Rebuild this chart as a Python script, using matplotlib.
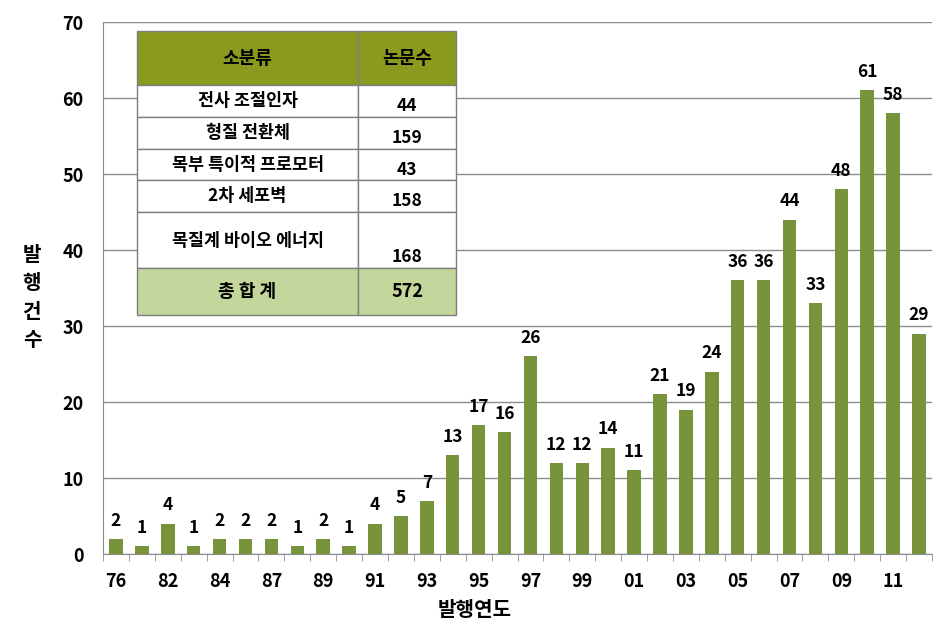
import numpy as np
import matplotlib.pyplot as plt
from matplotlib.patches import Rectangle

plt.rcParams['font.family'] = ['Noto Sans CJK KR', 'DejaVu Sans']

# Data
counts = [2, 1, 4, 1, 2, 2, 2, 1, 2, 1, 4, 5, 7, 13, 17, 16, 26, 12, 12, 14,
          11, 21, 19, 24, 36, 36, 44, 33, 48, 61, 58, 29]
tick_labels = ['76', '82', '84', '87', '89', '91', '93', '95', '97', '99',
               '01', '03', '05', '07', '09', '11']
table_header = ['소분류', '논문수']
table_names = ['전사 조절인자', '형질 전환체', '목부 특이적 프로모터', '2차 세포벽', '목질계 바이오 에너지']
table_values = ['44', '159', '43', '158', '168']
total_row = ['총 합 계', '572']

bar_color = '#77933C'
grid_color = '#8C8C8C'

fig = plt.figure(figsize=(9.48, 6.36), dpi=100)
ax = fig.add_axes([103/948, 1-554/636, 829/948, 532/636])

x = np.arange(len(counts))
ax.bar(x, counts, width=0.52, color=bar_color, zorder=2)
for xi, v in zip(x, counts):
    ax.text(xi, v + 1.2, str(v), ha='center', va='bottom', fontsize=12.5,
            fontweight='bold', color='black')

ax.set_xlim(-0.5, len(counts) - 0.5)
ax.set_ylim(0, 70)
ax.set_yticks(range(0, 71, 10))
ax.yaxis.grid(True, color=grid_color, linewidth=1, zorder=0)
ax.set_axisbelow(True)

ax.set_xticks(x[::2])
ax.set_xticklabels(tick_labels)
ax.set_xticks(np.arange(-0.5, len(counts), 1), minor=True)
ax.tick_params(axis='x', which='major', length=0, pad=13, labelsize=13)
ax.tick_params(axis='x', which='minor', length=5, color=grid_color, direction='out')
ax.tick_params(axis='y', length=0, pad=14, labelsize=13)
for lab in ax.get_xticklabels() + ax.get_yticklabels():
    lab.set_fontweight('bold')

for s in ['top', 'right']:
    ax.spines[s].set_visible(False)
for s in ['left', 'bottom']:
    ax.spines[s].set_color(grid_color)

fig.text(475/948, 1-610/636, '발행연도', ha='center', va='center', fontsize=14.5, fontweight='bold')
fig.text(32/948, 1-297/636, '발\n행\n건\n수', ha='center', va='center', fontsize=14.5,
         fontweight='bold', linespacing=1.45)

# inset table (pixel geometry converted to figure fraction)
def fx(px):
    return px / 948

def fy(py):
    return 1 - py / 636

x0, xm, x1 = 137, 358, 456
rows_y = [31, 85, 117, 149, 180, 212, 268, 315]
fills = ['#8A9A1E'] + ['white'] * 5 + ['#C3D69B']
cells = [table_header] + [[n, v] for n, v in zip(table_names, table_values)] + [total_row]
for i, (row, fill) in enumerate(zip(cells, fills)):
    top, bot = rows_y[i], rows_y[i + 1]
    for (l, r), txt in zip([(x0, xm), (xm, x1)], row):
        fig.add_artist(Rectangle((fx(l), fy(bot)), fx(r) - fx(l), fy(top) - fy(bot),
                                 transform=fig.transFigure, facecolor=fill,
                                 edgecolor='#7F7F7F', linewidth=1, zorder=5))
        if i == 5:
            ty = 241 if l == x0 else 257
        elif 1 <= i <= 4 and l == xm:
            ty = (top + bot) / 2 + 5
        else:
            ty = (top + bot) / 2
        fig.text((fx(l) + fx(r)) / 2, fy(ty), txt, ha='center', va='center',
                 fontsize=13 if i in (0, 6) else 12.5, fontweight='bold', zorder=6)

fig.savefig('out.png', dpi=100)
